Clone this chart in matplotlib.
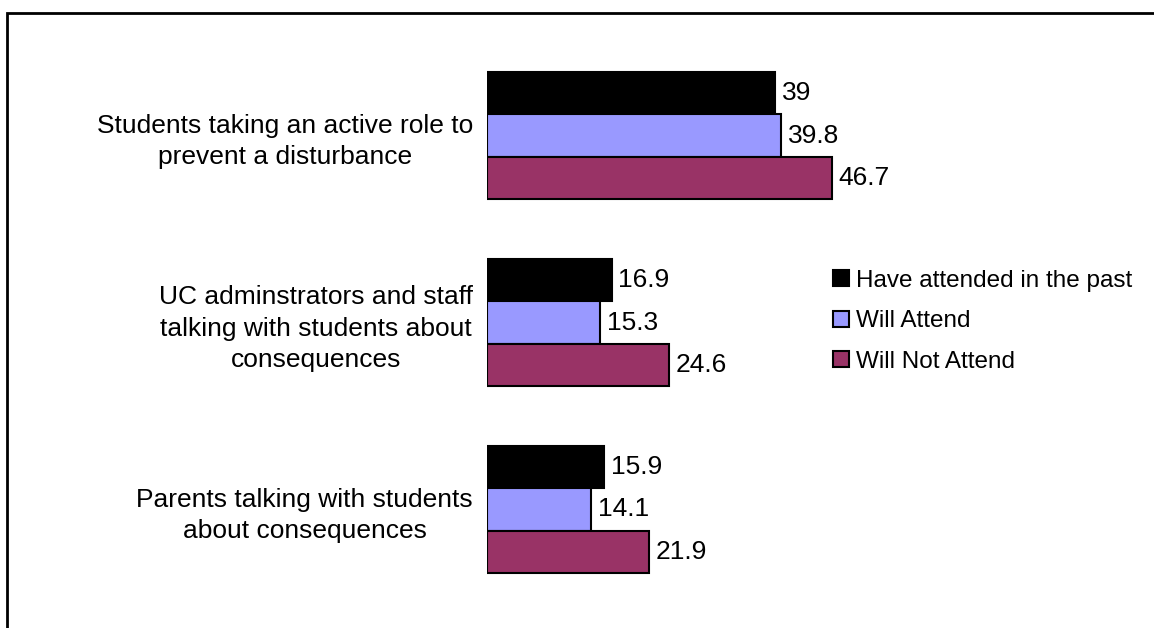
import matplotlib
matplotlib.use("Agg")
import matplotlib.pyplot as plt
import numpy as np
from matplotlib.patches import Rectangle

matplotlib.rcParams.update({
    "font.family": ["Liberation Sans", "DejaVu Sans"],
    "font.size": 19,
})

categorias = [
    "Students taking an active role to\nprevent a disturbance",
    "UC adminstrators and staff\ntalking with students about\nconsequences",
    "Parents talking with students\nabout consequences",
]
series = ["Have attended in the past", "Will Attend", "Will Not Attend"]
pasado = [39, 16.9, 15.9]
asistira = [39.8, 15.3, 14.1]
no_asistira = [46.7, 24.6, 21.9]
colores = ["#000000", "#9999FF", "#993366"]

W, H = 1154, 628
fig = plt.figure(figsize=(W / 100, H / 100), dpi=100)

# marco exterior (sale por la derecha y abajo)
fig.patches.append(Rectangle((7 / W, -0.1), 1.2, 1 - 13 / H + 0.1,
                             transform=fig.transFigure, fill=False,
                             edgecolor="black", linewidth=2))

# ejes en coordenadas de pixel
x0, x1 = 487, 487 + 50 * 7.385
y_top, y_bot = 40, 600
ax = fig.add_axes([x0 / W, 1 - y_bot / H, (x1 - x0) / W, (y_bot - y_top) / H])

y = np.arange(len(categorias))
h = 0.225
for k, (vals, nom, col) in enumerate(zip([pasado, asistira, no_asistira], series, colores)):
    pos = y + (k - 1) * h
    ax.barh(pos, vals, height=h, color=col, edgecolor="black", linewidth=1.5,
            label=nom)
    for p, v in zip(pos, vals):
        ax.text(v + 0.9, p, f"{v:g}", ha="left", va="center", fontsize=19)

ax.set_xlim(0, 50)
ax.set_ylim((y_bot - 135.5) / 187, -(135.5 - y_top) / 187)
ax.set_yticks(y)
ax.set_yticklabels(categorias, multialignment="center", linespacing=1.38)
ax.tick_params(axis="y", length=0, pad=10)
ax.set_xticks([])
for s in ax.spines.values():
    s.set_visible(False)

fig.legend(loc="upper left", bbox_to_anchor=(811 / W, 1 - 248 / H),
           frameon=False, handlelength=0.65, handleheight=0.65,
           handletextpad=0.3, labelspacing=0.76, fontsize=17.5)

plt.savefig("out.png", dpi=100)
plt.close()
